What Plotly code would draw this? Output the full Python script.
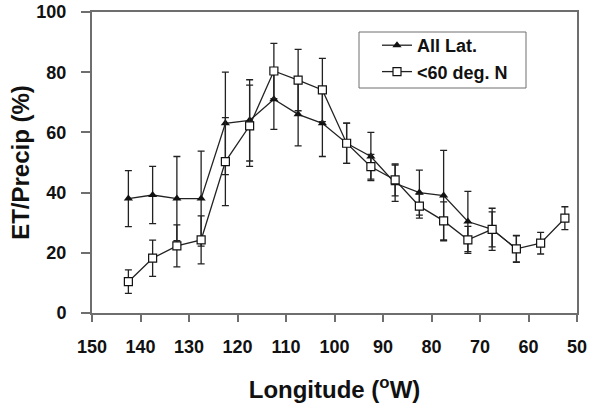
import plotly.graph_objects as go

lon_all = [142.5, 137.5, 132.5, 127.5, 122.5, 117.5, 112.5, 107.5, 102.5, 97.5,
           92.5, 87.5, 82.5, 77.5, 72.5, 67.5, 62.5]
et_all = [38.0, 39.2, 38.0, 38.0, 63.0, 64.0, 71.0, 66.0, 63.0, 56.4,
          52.0, 43.1, 40.0, 39.0, 30.4, 27.8, 21.3]
err_all = [9.3, 9.5, 14.0, 15.8, 17.0, 13.5, 10.0, 10.5, 11.0, 6.7,
           8.0, 6.0, 7.5, 15.0, 10.0, 7.0, 4.5]

lon_60 = [142.5, 137.5, 132.5, 127.5, 122.5, 117.5, 112.5, 107.5, 102.5, 97.5,
          92.5, 87.5, 82.5, 77.5, 72.5, 67.5, 62.5, 57.5, 52.5]
et_60 = [10.4, 18.2, 22.3, 24.3, 50.3, 62.2, 80.4, 77.4, 74.1, 56.4,
         48.6, 44.2, 35.5, 30.6, 24.3, 27.8, 21.3, 23.2, 31.5]
err_60 = [3.9, 6.0, 7.0, 8.0, 14.6, 13.5, 9.2, 10.2, 10.5, 6.7,
          4.1, 5.3, 4.0, 6.3, 4.5, 5.8, 4.3, 3.6, 3.8]

x_ticks = [150, 140, 130, 120, 110, 100, 90, 80, 70, 60, 50]
y_ticks = [0, 20, 40, 60, 80, 100]

FONT = "Liberation Sans, Arial, sans-serif"
LINE = "#222222"
AXIS = "#6e6e6e"

W, H = 599, 407
ML, MT = 92, 12
PR, PB = 577, 313          # plot right / bottom edge in px
MR, MB = W - PR, H - PB
PW, PH = PR - ML, PB - MT


def px_x(p):
    return (p - ML) / PW


def px_y(p):
    return (PB - p) / PH


fig = go.Figure()
fig.add_trace(go.Scatter(
    x=lon_all, y=et_all, name="All Lat.", mode="lines+markers",
    line=dict(color=LINE, width=1.3),
    marker=dict(symbol="triangle-up", size=8, color="#111111"),
    error_y=dict(type="data", array=err_all, color=LINE, thickness=1.3, width=3.5),
))
fig.add_trace(go.Scatter(
    x=lon_60, y=et_60, name="<60 deg. N", mode="lines+markers",
    line=dict(color=LINE, width=1.3),
    marker=dict(symbol="square", size=8, color="white", line=dict(color="#111111", width=1.2)),
    error_y=dict(type="data", array=err_60, color=LINE, thickness=1.3, width=3.5),
))

# legend frame
fig.add_shape(type="rect", xref="paper", yref="paper",
              x0=px_x(359), x1=px_x(526), y0=px_y(88), y1=px_y(32),
              line=dict(color=AXIS, width=1), fillcolor="white", layer="below")

fig.update_layout(
    width=W, height=H,
    margin=dict(l=ML, r=MR, t=MT, b=MB),
    paper_bgcolor="white", plot_bgcolor="white",
    font=dict(family=FONT, color="#111111"),
    showlegend=True,
    legend=dict(
        x=px_x(377), y=px_y(27), xanchor="left", yanchor="top",
        bgcolor="rgba(0,0,0,0)", borderwidth=0,
        font=dict(size=18, family=FONT, weight="bold"),
        itemwidth=30, tracegroupgap=0,
    ),
    xaxis=dict(
        range=[150, 50], tickvals=x_ticks, ticktext=[str(v) for v in x_ticks],
        showgrid=False, zeroline=False, automargin=False,
        showline=True, linecolor=AXIS, linewidth=2, mirror=True,
        ticks="outside", ticklen=7, tickwidth=1.5, tickcolor=AXIS,
        ticklabelstandoff=9,
        tickfont=dict(size=18, family=FONT, weight="bold"),
        title=dict(text="Longitude (<sup>o</sup>W)", font=dict(size=24, family=FONT, weight="bold"), standoff=26),
    ),
    yaxis=dict(
        range=[0, 100], tickvals=y_ticks,
        showgrid=False, zeroline=False, automargin=False,
        showline=True, linecolor=AXIS, linewidth=2, mirror=True,
        ticks="outside", ticklen=9, tickwidth=1.5, tickcolor=AXIS,
        ticklabelstandoff=11, ticklabeloverflow="allow",
        tickfont=dict(size=18, family=FONT, weight="bold"),
        title=dict(text="ET/Precip (%)", font=dict(size=24, family=FONT, weight="bold"), standoff=0),
    ),
)

fig.write_html("out.html", config={"displayModeBar": False},
               post_script="document.body.style.margin='0';")
